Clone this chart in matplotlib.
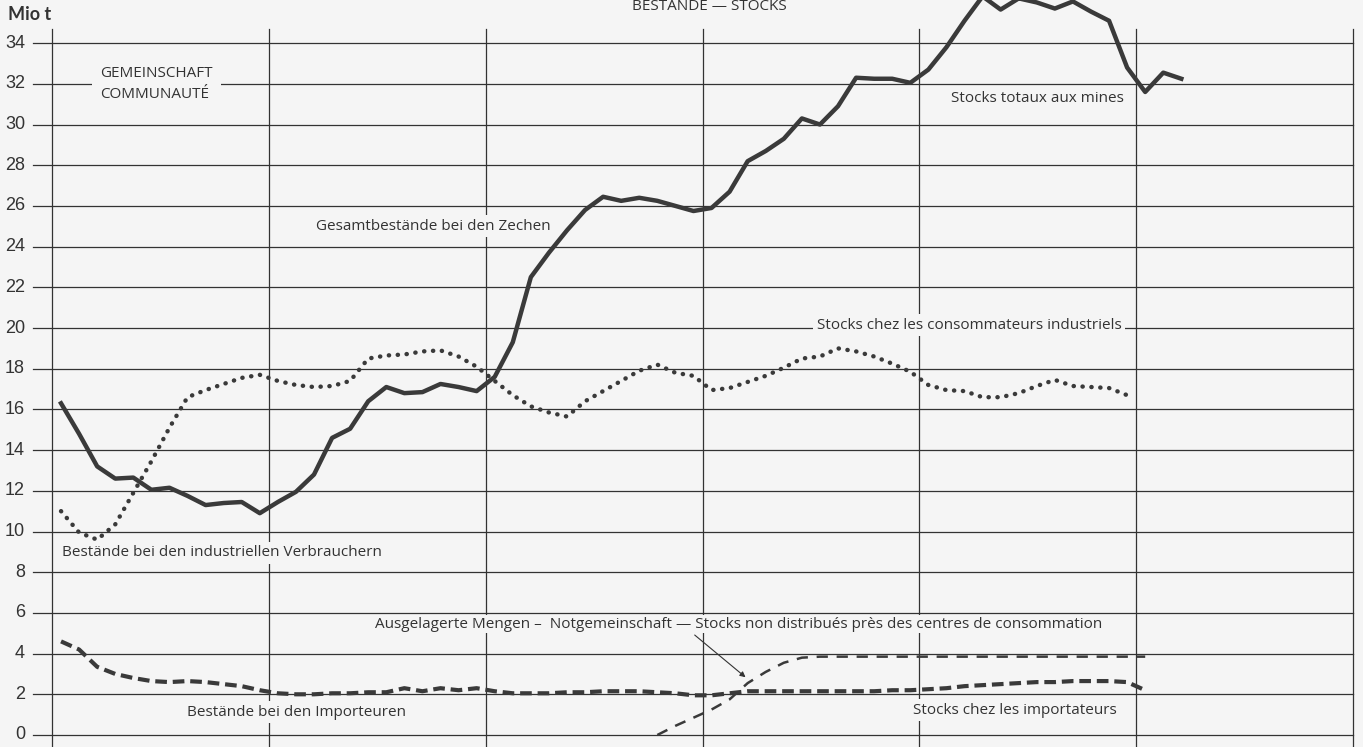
import matplotlib
matplotlib.use("Agg")
import matplotlib.pyplot as plt
import matplotlib.transforms as mtransforms
import numpy as np

# ---------------- data (monthly values, Mio t) ----------------
# Gesamtbestände bei den Zechen / Stocks totaux aux mines
mines = [16.3, 14.8, 13.2, 12.6, 12.65, 12.05, 12.15, 11.75, 11.3, 11.4, 11.45, 10.9,
         11.45, 11.95, 12.8, 14.6, 15.05, 16.4, 17.1, 16.8, 16.85, 17.25, 17.1, 16.9,
         17.6, 19.3, 22.5, 23.7, 24.8, 25.8, 26.45, 26.25, 26.4, 26.25, 26.0, 25.75,
         25.9, 26.7, 28.2, 28.7, 29.3, 30.3, 30.0, 30.9, 32.3, 32.25, 32.25, 32.05,
         32.7, 33.8, 35.1, 36.3, 35.65, 36.2, 36.0, 35.7, 36.05, 35.55, 35.1, 32.8,
         31.6, 32.55, 32.25]
# Bestände bei den industriellen Verbrauchern / Stocks chez les consommateurs industriels
industry = [11.0, 9.95, 9.6, 10.35, 11.9, 13.45, 15.1, 16.6, 16.95, 17.25, 17.55, 17.7,
            17.4, 17.2, 17.1, 17.15, 17.4, 18.5, 18.65, 18.7, 18.85, 18.9, 18.6, 18.1,
            17.4, 16.7, 16.15, 15.85, 15.65, 16.4, 16.9, 17.4, 17.9, 18.2, 17.8, 17.65,
            16.95, 17.05, 17.35, 17.65, 18.05, 18.5, 18.6, 19.0, 18.85, 18.6, 18.25, 17.85,
            17.2, 16.95, 16.9, 16.6, 16.6, 16.8, 17.15, 17.45, 17.15, 17.1, 17.05, 16.7]
# Bestände bei den Importeuren / Stocks chez les importateurs
importers = [4.6, 4.2, 3.35, 3.0, 2.8, 2.65, 2.6, 2.65, 2.6, 2.5, 2.4, 2.2,
             2.05, 2.0, 2.0, 2.05, 2.05, 2.1, 2.1, 2.3, 2.15, 2.3, 2.2, 2.3,
             2.15, 2.05, 2.05, 2.05, 2.1, 2.1, 2.15, 2.15, 2.15, 2.1, 2.05, 1.95,
             1.95, 2.05, 2.15, 2.15, 2.15, 2.15, 2.15, 2.15, 2.15, 2.15, 2.2, 2.2,
             2.25, 2.3, 2.4, 2.45, 2.5, 2.55, 2.6, 2.6, 2.65, 2.65, 2.65, 2.6, 2.2]
# Ausgelagerte Mengen - Notgemeinschaft (starts at month 33)
notgem_start = 33
notgem = [0.0, 0.45, 0.85, 1.25, 1.75, 2.55, 3.1, 3.55, 3.8, 3.85, 3.85, 3.85,
          3.85, 3.85, 3.85, 3.85, 3.85, 3.85, 3.85, 3.85, 3.85, 3.85, 3.85, 3.85,
          3.85, 3.85, 3.85, 3.85]

y_ticks = list(range(0, 35, 2))
n_years = 6

# ---------------- figure ----------------
W, H = 1363, 747
BG = "#f5f5f5"
INK = "#333333"
fig = plt.figure(figsize=(W / 100, H / 100), dpi=100, facecolor=BG)
ax = fig.add_axes([52 / W, 0, 1301 / W, 1])
ax.set_facecolor(BG)
ax.set_xlim(0, 12 * n_years)
ax.set_ylim(-0.59, 36.12)
ax.axis("off")

def fx(px):
    return px / W

def fy(py):
    return 1 - py / H

# horizontal grid lines (extend a little to the left of the axes)
trans_h = mtransforms.blended_transform_factory(ax.transAxes, ax.transData)
for v in y_ticks:
    ax.plot([-19 / 1301, 1.0], [v, v], transform=trans_h, color=INK, lw=0.9,
            clip_on=False, zorder=1)
    ax.text(-27 / 1301, v, str(v), transform=trans_h, ha="right", va="center",
            fontsize=13, color=INK,
            family=["Liberation Sans Narrow", "Liberation Sans", "DejaVu Sans"])

# vertical grid lines (yearly)
for k in range(n_years + 1):
    ax.plot([12 * k, 12 * k], [-0.59, 34.7], color=INK, lw=0.9, zorder=1,
            clip_on=False)

x_m = np.arange(len(mines)) + 0.5
x_i = np.arange(len(industry)) + 0.5
x_imp = np.arange(len(importers)) + 0.5
x_n = np.arange(notgem_start, notgem_start + len(notgem)) + 0.5

LC = "#3a3a3a"
ax.plot(x_m, mines, color=LC, lw=3.2, solid_joinstyle="round", zorder=4)
ax.plot(x_i, industry, color=LC, lw=3.2, linestyle=(0, (0.05, 1.95)),
        dash_capstyle="round", zorder=4)
ax.plot(x_imp, importers, color=LC, lw=3.0, linestyle=(0, (2.8, 1.4)),
        dash_capstyle="butt", zorder=4)
ax.plot(x_n, notgem, color=LC, lw=1.8, linestyle=(0, (4.5, 3.5)), zorder=4)

# arrow from the label to the Notgemeinschaft curve
ax.annotate("", xy=(38.5, 2.75), xytext=(35.45, 5.0),
            arrowprops=dict(arrowstyle="-|>", color=INK, lw=0.8,
                            mutation_scale=8), zorder=5)

# ---------------- texts ----------------
FONT = ["Open Sans", "Lato", "DejaVu Sans"]

fig.text(fx(709), fy(7), "BESTÄNDE — STOCKS", ha="center", va="center",
         fontsize=11, color=INK, family=FONT)
fig.text(fx(8), fy(15), "Mio t", ha="left", va="center", fontsize=13,
         fontweight="bold", color=INK, family=["Lato", "DejaVu Sans"])

fig.text(fx(100), fy(84), "GEMEINSCHAFT\nCOMMUNAUTÉ", ha="left", va="center",
         fontsize=11, color=INK, family=FONT, linespacing=1.6,
         bbox=dict(facecolor=BG, edgecolor="none", pad=6))

labels = [
    (316, 226, "Gesamtbestände bei den Zechen", 2.5),
    (951, 99, "Stocks totaux aux mines", 2.5),
    (817, 325, "Stocks chez les consommateurs industriels", 2.5),
    (62, 553, "Bestände bei den industriellen Verbrauchern", 2.5),
    (375, 624, "Ausgelagerte Mengen –  Notgemeinschaft — Stocks non distribués près des centres de consommation", 0.8),
    (187, 712, "Bestände bei den Importeuren", 2.5),
    (913, 710, "Stocks chez les importateurs", 2.5),
]
for px, py, s, pad in labels:
    fig.text(fx(px), fy(py), s, ha="left", va="center", fontsize=11,
             color=INK, family=FONT, zorder=6,
             bbox=dict(facecolor=BG, edgecolor="none", pad=pad))

fig.savefig("out.png", dpi=100, facecolor=BG)
